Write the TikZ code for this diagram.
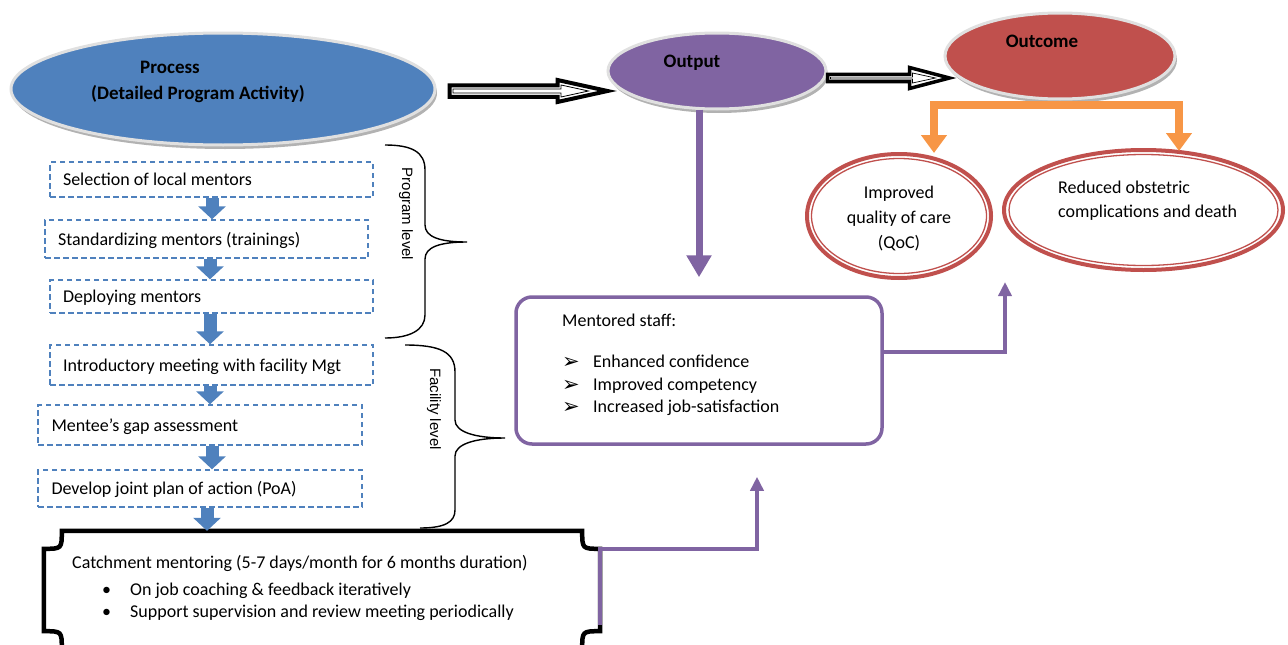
\documentclass[tikz,border=0pt]{standalone}
\usepackage{fontspec}
\setmainfont{Carlito}
\newfontfamily\arialf{Liberation Sans}
\newfontfamily\djv{DejaVu Sans}
\usetikzlibrary{shapes.geometric,arrows.meta,calc,shadows}
\definecolor{cblue}{HTML}{4F81BD}
\definecolor{cpurple}{HTML}{8064A2}
\definecolor{cred}{HTML}{C0504D}
\definecolor{corange}{HTML}{F79646}
\newcommand{\boxtxt}[1]{\makebox[297pt][l]{#1}}
\begin{document}
\begin{tikzpicture}[x=1pt,y=-1pt, font=\fontsize{18pt}{22pt}\selectfont,
  ell/.style={ellipse, draw=white!88!black, line width=3pt, inner sep=0pt,
    drop shadow={shadow xshift=2pt, shadow yshift=-4pt, fill=black!30, opacity=1}},
  oell/.style={ellipse, draw=cred, line width=4pt, inner sep=0pt, fill=white},
  ttl/.style={font=\fontsize{19pt}{22pt}\selectfont\bfseries, inner sep=0pt, anchor=base},
  lbl/.style={inner sep=0pt, anchor=base west},
  clbl/.style={inner sep=0pt, anchor=base},
  dbox/.style={draw=cblue, line width=1.4pt, dash pattern=on 5.5pt off 3.5pt, inner xsep=13pt,
    inner ysep=0pt, text height=12pt, text depth=0pt},
  barr/.style={draw=cblue, line width=13pt, -{Triangle[width=27pt,length=13pt]}},
  parr/.style={draw=cpurple, line width=3.5pt, line join=miter, -{Triangle[width=13pt,length=14pt]}},
  bigparr/.style={draw=cpurple, line width=7pt, -{Triangle[width=24pt,length=22pt]}},
  oarr/.style={draw=corange, line width=7.5pt, line join=miter,
    {Triangle[width=25pt,length=18pt]}-{Triangle[width=25pt,length=18pt]}},
  hollow/.style={draw=black, line width=4pt, fill=white, line join=miter},
  hollowin/.style={draw=black, line width=0.8pt},
  brace/.style={draw=black, line width=1.4pt},
  plaque/.style={draw=black, line width=4.5pt, fill=white},
  sidelbl/.style={font=\arialf\fontsize{15pt}{18pt}\selectfont, rotate=-90, inner sep=0pt},
  arrowbul/.style={inner sep=0pt, anchor=base west, font=\djv\fontsize{21pt}{22pt}\selectfont}
]
\useasboundingbox (0,0) rectangle (1288,645);

% ---------- top ellipses ----------
\node[ell, fill=cblue, minimum width=424pt, minimum height=112pt] (proc) at (223,89) {};
\node[ttl] (proct1) at (170,73) {Process};
\node[ttl] (proct2) at (198,99.5) {(Detailed Program Activity)};

\node[ell, fill=cpurple, minimum width=218pt, minimum height=76pt] (out) at (717,71) {};
\node[ttl] (outt) at (692,67) {Output};

\node[ell, fill=cred, minimum width=230pt, minimum height=86pt] (oc) at (1060,56) {};
\node[ttl] (oct) at (1042,47) {Outcome};

% ---------- hollow arrows ----------
\coordinate (h1s) at ($(proc.east)+(13,2)$);
\coordinate (h1e) at ($(out.west)+(1,20)$);
\draw[hollow] ($(h1s)+(0,-5.75)$) -- ($(h1e)+(-50,-5.75)$) -- ($(h1e)+(-50,-11)$) -- (h1e)
  -- ($(h1e)+(-50,11)$) -- ($(h1e)+(-50,5.75)$) -- ($(h1s)+(0,5.75)$) -- cycle;
\draw[hollowin] ($(h1s)+(3.5,-2)$) -- ($(h1e)+(-46.5,-2)$) -- ($(h1e)+(-46.5,-6)$) -- ($(h1e)+(-19,0)$)
  -- ($(h1e)+(-46.5,6)$) -- ($(h1e)+(-46.5,2)$) -- ($(h1s)+(3.5,2)$) -- cycle;

\coordinate (h2s) at ($(out.east)+(0,7)$);
\coordinate (h2e) at ($(oc.west)+(6,22)$);
\draw[hollow, line width=3.5pt] ($(h2s)+(0,-3.6)$) -- ($(h2e)+(-40,-3.6)$) -- ($(h2e)+(-40,-10.5)$) -- (h2e)
  -- ($(h2e)+(-40,10.5)$) -- ($(h2e)+(-40,3.6)$) -- ($(h2s)+(0,3.6)$) -- cycle;
\draw[hollowin, line width=0.7pt] ($(h2s)+(3,-0.9)$) -- ($(h2e)+(-37,-0.9)$) -- ($(h2e)+(-37,-5)$) -- ($(h2e)+(-14,0)$)
  -- ($(h2e)+(-37,5)$) -- ($(h2e)+(-37,0.9)$) -- ($(h2s)+(3,0.9)$) -- cycle;

% ---------- outcome ellipses ----------
\node[oell, minimum width=184pt, minimum height=124pt] (qoc) at (899,216) {};
\draw[cred, line width=1.3pt] (qoc.center) ellipse [x radius=87.5, y radius=57.5];
\node[clbl] (q1) at (899,198) {Improved};
\node[clbl] (q2) at (899,223) {quality of care};
\node[clbl] (q3) at (899,248) {(QoC)};

\node[oell, minimum width=279pt, minimum height=120pt] (red) at (1143.5,210) {};
\draw[cred, line width=1.3pt] (red.center) ellipse [x radius=134.5, y radius=55.5];
\node[lbl] (r1) at (1058,193) {Reduced obstetric};
\node[lbl] (r2) at (1058,217) {complications and death};

% orange connector
\draw[oarr] ($(qoc.north)+(35,1)$) |- ($(oc.south)+(0,4.5)$) -| ($(red.north)+(35.5,3)$);

% ---------- mentored staff ----------
\node[draw=cpurple, line width=3.5pt, rounded corners=16pt, minimum width=366pt, minimum height=147pt,
  inner sep=0pt] (ms) at (699,370.5) {};
\node[lbl] (m0) at (562,326) {Mentored staff:};
\node[arrowbul] (mb1) at (562,368) {➢};
\node[arrowbul] (mb2) at (562,391) {➢};
\node[arrowbul] (mb3) at (562,413) {➢};
\node[lbl] (m1) at (593,367) {Enhanced confidence};
\node[lbl] (m2) at (593,390) {Improved competency};
\node[lbl] (m3) at (593,412) {Increased job-satisfaction};

\draw[bigparr] ($(out.south)+(-18,-1)$) -- ($(ms.north)+(0,-18)$);
\draw[parr] ($(ms.east)+(0,-18.5)$) -| ($(red.south)+(-138.5,10)$);

% ---------- dashed boxes ----------
\node[dbox, minimum width=323pt, minimum height=35pt] (b1) at (211.5,179.5) {\boxtxt{Selection of local mentors}};
\node[dbox, minimum width=323pt, minimum height=38pt] (b2) at (206.5,239) {\boxtxt{Standardizing mentors (trainings)}};
\node[dbox, minimum width=323pt, minimum height=33pt] (b3) at (211.5,296.5) {\boxtxt{Deploying mentors}};
\node[dbox, minimum width=323pt, minimum height=40pt] (b4) at (211.5,365) {\boxtxt{Introductory meeting with facility Mgt}};
\node[dbox, minimum width=324pt, minimum height=40pt] (b5) at (200,425) {\boxtxt{Mentee’s gap assessment}};
\node[dbox, minimum width=324pt, minimum height=37pt] (b6) at (200,488.5) {\boxtxt{Develop joint plan of action (PoA)}};

% ---------- catchment plaque ----------
\node[minimum width=556pt, minimum height=118pt, inner sep=0pt] (catch) at (322,590) {};
\draw[plaque] ($(catch.north west)+(0,18)$) .. controls ($(catch.north west)+(18,18)$) .. ($(catch.north west)+(18,0)$)
  -- ($(catch.north east)+(-18,0)$) .. controls ($(catch.north east)+(-18,18)$) .. ($(catch.north east)+(0,18)$)
  -- ($(catch.south east)+(0,-18)$) .. controls ($(catch.south east)+(-18,-18)$) .. ($(catch.south east)+(-18,0)$)
  -- ($(catch.south west)+(18,0)$) .. controls ($(catch.south west)+(18,-18)$) .. ($(catch.south west)+(0,-18)$)
  -- cycle;
\node[lbl] (c0) at (72,568) {Catchment mentoring (5-7 days/month for 6 months duration)};
\node[lbl] (cb1) at (102,595) {•};
\node[lbl] (c1) at (130,595) {On job coaching \& feedback iteratively};
\node[lbl] (cb2) at (102,617) {•};
\node[lbl] (c2) at (130,617) {Support supervision and review meeting periodically};

\draw[parr] ($(catch.south east)+(0,-24)$) -- ($(catch.north east)+(0,18)$) -| ($(ms.south)+(58,31)$);

% ---------- blue arrows ----------
\coordinate (ax1) at (212,0);
\coordinate (ax2) at (210,0);
\coordinate (ax5) at (212,0);
\coordinate (ax6) at (207,0);
\draw[barr] (b1.south -| ax1) -- (b2.north -| ax1);
\draw[barr] (b2.south -| ax2) -- (b3.north -| ax2);
\draw[barr] (b3.south -| ax2) -- (b4.north -| ax2);
\draw[barr] (b4.south -| ax2) -- (b5.north -| ax2);
\draw[barr] (b5.south -| ax5) -- (b6.north -| ax5);
\draw[barr] (b6.south -| ax6) -- (catch.north -| ax6);

% ---------- braces ----------
\coordinate (pt) at (385,145);
\coordinate (ptip) at (467,242);
\coordinate (pb) at (385,338);
\draw[brace] (pt) .. controls (412,145) and (425,152) .. (425,170) -- (425,225)
  .. controls (425,237) and (440,242) .. (ptip) .. controls (440,242) and (425,247) .. (425,259)
  -- (425,315) .. controls (425,330) and (410,338) .. (pb);
\node[sidelbl] (pl) at (406,214) {Program level};

\coordinate (ft) at (405,345);
\coordinate (ftip) at (505,438);
\coordinate (fb) at (420,528);
\draw[brace] (ft) .. controls (440,345) and (455,352) .. (455,372) -- (455,420)
  .. controls (455,432) and (475,438) .. (ftip) .. controls (475,438) and (455,444) .. (455,456)
  -- (455,510) .. controls (455,522) and (445,528) .. (fb);
\node[sidelbl] (fl) at (434,409) {Facility level};
\end{tikzpicture}
\end{document}
